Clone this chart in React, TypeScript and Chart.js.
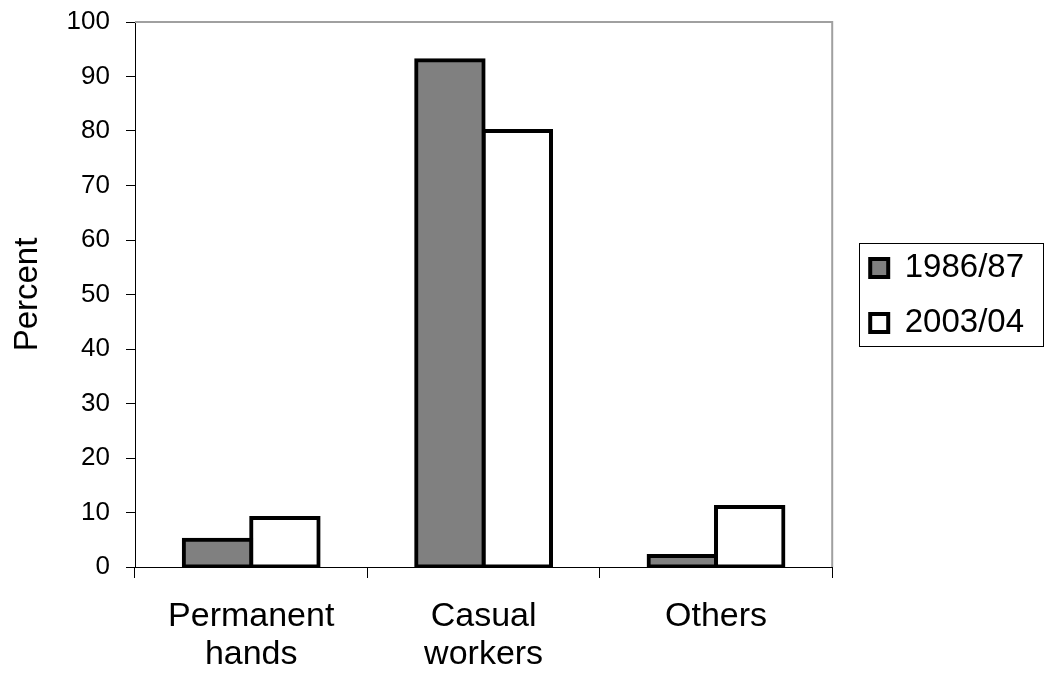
import React, { useEffect, useRef } from "react";
import { Chart, registerables } from "chart.js";

Chart.register(...registerables);

const categories: (string | string[])[] = [["Permanent", "hands"], ["Casual", "workers"], "Others"];
const seriesLabels = ["1986/87", "2003/04"];
const values1986 = [5, 93, 2];
const values2003 = [9, 80, 11];
const seriesColors = ["#808080", "#ffffff"];
const yMin = 0;
const yMax = 100;
const yStep = 10;
const yTitle = "Percent";

const FONT = "'Liberation Sans', Arial, Helvetica, sans-serif";

const plotFrame = {
  id: "plotFrame",
  afterDraw(chart: any) {
    const { ctx, chartArea } = chart;
    const { left, top, right, bottom } = chartArea;
    ctx.save();
    ctx.strokeStyle = "#a0a0a0";
    ctx.lineWidth = 2;
    ctx.beginPath();
    ctx.moveTo(left, top);
    ctx.lineTo(right, top);
    ctx.lineTo(right, bottom);
    ctx.stroke();
    ctx.restore();
  },
};

const legendShift = {
  id: "legendShift",
  afterLayout(chart: any) {
    const l = chart.legend;
    if (l) {
      l.left += 16;
      l.right += 16;
      const h = l.bottom - l.top;
      const c = (chart.chartArea.top + chart.chartArea.bottom) / 2 + 1;
      l.top = c - h / 2;
      l.bottom = c + h / 2;
    }
  },
};

const legendFrame = {
  id: "legendFrame",
  afterDraw(chart: any) {
    const l = chart.legend;
    if (!l || !l.legendHitBoxes || !l.legendHitBoxes.length) return;
    const hbs = l.legendHitBoxes;
    const first = hbs[0];
    const last = hbs[hbs.length - 1];
    const ctx = chart.ctx;
    const x0 = first.left - 11;
    const y0 = first.top - 9;
    const x1 = chart.width - 1;
    const y1 = last.top + last.height + 6;
    ctx.save();
    ctx.strokeStyle = "#000";
    ctx.lineWidth = 1;
    ctx.strokeRect(Math.round(x0) + 0.5, Math.round(y0) + 0.5, Math.round(x1 - x0), Math.round(y1 - y0));
    ctx.restore();
  },
};

export default function App() {
  const ref = useRef<HTMLCanvasElement | null>(null);

  useEffect(() => {
    document.body.style.margin = "0";
    const canvas = ref.current;
    if (!canvas) return;
    const chart = new Chart(canvas, {
      type: "bar",
      data: {
        labels: categories,
        datasets: [
          {
            label: seriesLabels[0],
            data: values1986,
            backgroundColor: seriesColors[0],
            borderColor: "#000",
            borderWidth: 4,
            borderSkipped: false,
            inflateAmount: 2,
          },
          {
            label: seriesLabels[1],
            data: values2003,
            backgroundColor: seriesColors[1],
            borderColor: "#000",
            borderWidth: 4,
            borderSkipped: false,
            inflateAmount: 2,
          },
        ],
      },
      options: {
        animation: false,
        responsive: false,
        maintainAspectRatio: false,
        devicePixelRatio: 1,
        layout: { padding: { top: 22, right: 26, left: 0, bottom: 0 } },
        datasets: {
          bar: { barPercentage: 1, categoryPercentage: 0.58 },
        },
        plugins: {
          legend: {
            position: "right",
            align: "center",
            labels: {
              boxWidth: 18,
              boxHeight: 18,
              padding: 22,
              color: "#000",
              font: { family: FONT, size: 33 },
            },
          },
          tooltip: { enabled: false },
          title: { display: false },
        },
        scales: {
          x: {
            grid: {
              offset: true,
              drawOnChartArea: false,
              drawTicks: true,
              tickLength: 11,
              color: "#000",
              lineWidth: 1,
            },
            border: { display: true, color: "#000", width: 1 },
            ticks: {
              color: "#000",
              font: { family: FONT, size: 34, lineHeight: 1.12 },
              padding: 20,
              maxRotation: 0,
              minRotation: 0,
              autoSkip: false,
            },
            afterFit(scale: any) {
              scale.height = 108;
              scale.paddingLeft = 0;
              scale.paddingRight = 0;
            },
          },
          y: {
            min: yMin,
            max: yMax,
            title: {
              display: true,
              text: yTitle,
              color: "#000",
              font: { family: FONT, size: 33, lineHeight: 1.2 },
              padding: { top: 8, bottom: 0 },
            },
            grid: {
              drawOnChartArea: false,
              drawTicks: true,
              tickLength: 9,
              color: "#000",
              lineWidth: 1,
            },
            border: { display: true, color: "#000", width: 1 },
            ticks: {
              stepSize: yStep,
              color: "#000",
              font: { family: FONT, size: 26 },
              padding: 16,
            },
            afterFit(scale: any) {
              scale.width = 135;
              scale.paddingTop = 0;
              scale.paddingBottom = 0;
            },
          },
        },
      },
      plugins: [plotFrame, legendShift, legendFrame],
    } as any);
    return () => chart.destroy();
  }, []);

  return (
    <div style={{ width: 1044, height: 675 }}>
      <canvas ref={ref} width={1044} height={675} style={{ display: "block", width: 1044, height: 675 }} />
    </div>
  );
}
